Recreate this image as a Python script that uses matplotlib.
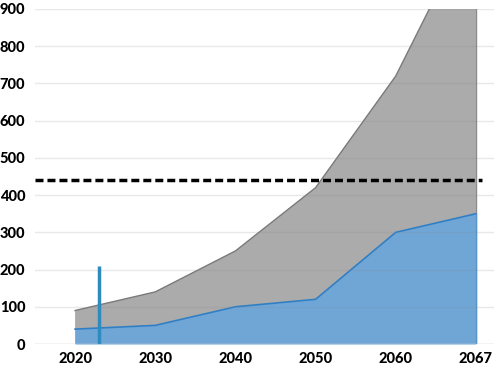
import matplotlib
matplotlib.use("Agg")
import matplotlib.pyplot as plt
import numpy as np

years = ["2020", "2030", "2040", "2050", "2060", "2067"]
total_values = [90, 140, 250, 420, 720, 1150]
blue_values = [40, 50, 100, 120, 300, 350]
threshold = 440
marker_year = 2023
marker_height = 210
y_ticks = [0, 100, 200, 300, 400, 500, 600, 700, 800, 900]

plt.rcParams['font.family'] = ['Lato', 'DejaVu Sans']

fig = plt.figure(figsize=(4.94, 3.70), dpi=100)
ax = fig.add_axes([35/494, 26/370, 481/494, 335/370])

x = np.arange(len(years))
ax.fill_between(x, 0, total_values, color="#ababab", zorder=1, linewidth=0)
ax.plot(x, total_values, color="#7a7a7a", lw=1.0, zorder=2)
ax.plot([x[-1], x[-1]], [0, total_values[-1]], color="#8a8a8a", lw=1.0, zorder=2)
ax.fill_between(x, 0, blue_values, color="#6fa6d6", zorder=3, linewidth=0)
ax.plot(x, blue_values, color="#2f7fc6", lw=1.2, zorder=4)
ax.plot([x[-1], x[-1]], [0, blue_values[-1]], color="#5a96cc", lw=1.0, zorder=4)

# grid on top (faint)
for v in y_ticks:
    ax.axhline(v, color=(0.55, 0.55, 0.55, 0.2), lw=1.0, zorder=5)
ax.axhline(0, color="#d9d9d9", lw=1.0, zorder=5)

# threshold dashed line
ax.plot([-0.5, 5.07], [threshold, threshold], color="black", lw=2.5,
        dashes=(2.3, 1.15), zorder=6)

# marker vertical line
mpos = (marker_year - int(years[0])) / (int(years[1]) - int(years[0]))
ax.plot([mpos, mpos], [0, marker_height], color="#2e8bc0", lw=2.5, zorder=6,
        solid_capstyle="butt")

ax.set_xlim(-0.5, 5.5)
ax.set_ylim(0, 900)
ax.set_xticks(x)
ax.set_xticklabels(years)
ax.set_yticks(y_ticks)
ax.tick_params(length=0, labelsize=10.5, pad=6)
ax.tick_params(axis='y', pad=7)
for lab in ax.get_xticklabels() + ax.get_yticklabels():
    lab.set_fontweight("black")
for s in ax.spines.values():
    s.set_visible(False)

fig.savefig("out.png", dpi=100)
